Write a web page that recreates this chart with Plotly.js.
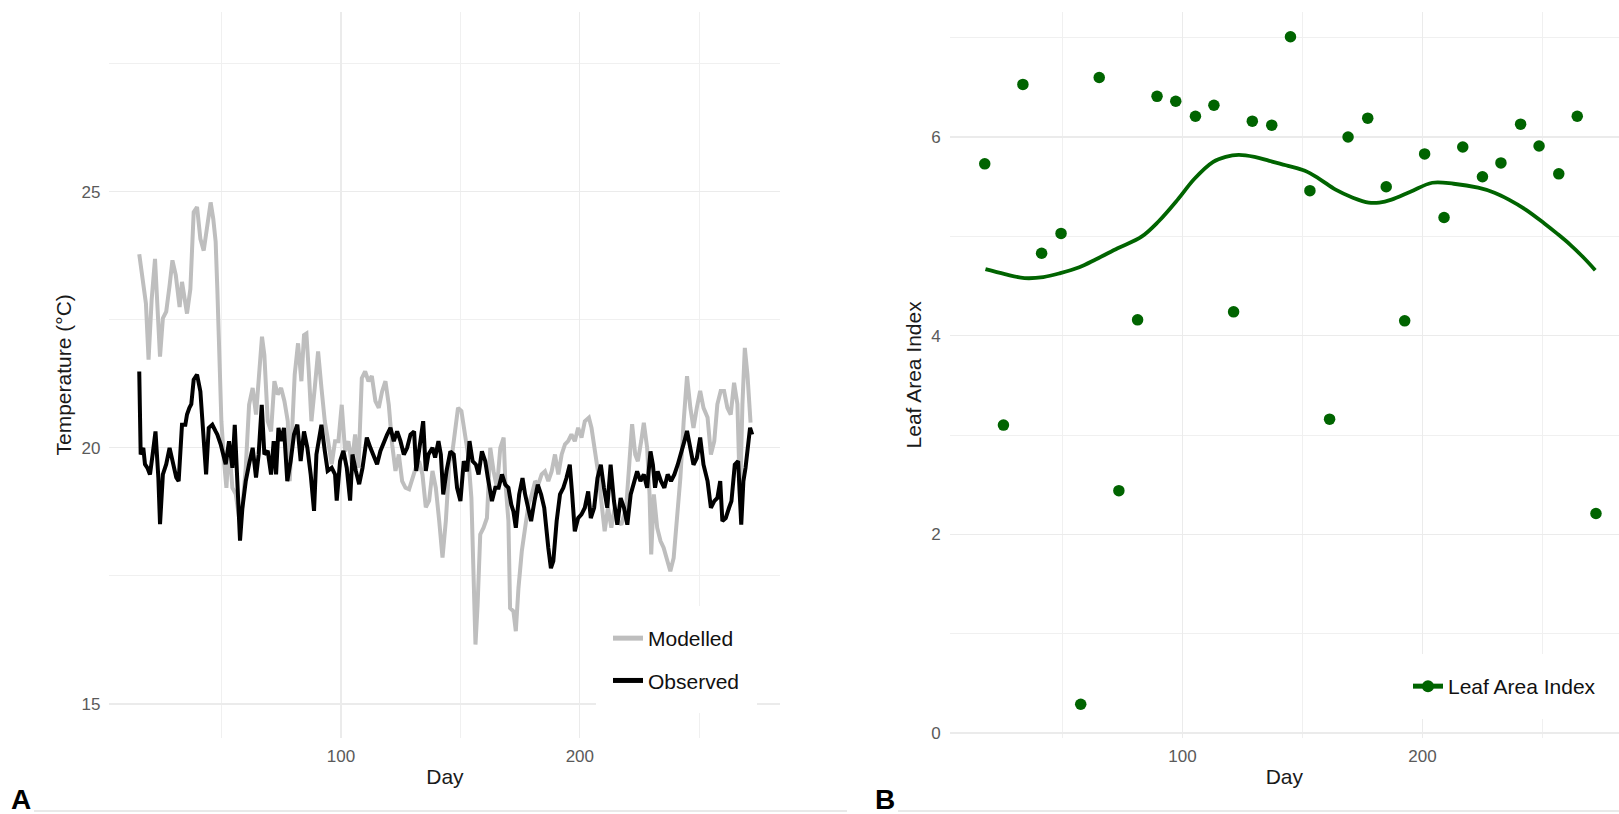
<!DOCTYPE html>
<html>
<head>
<meta charset="utf-8">
<script src="https://cdn.plot.ly/plotly-3.0.1.min.js"></script>
<style>html,body{margin:0;padding:0;background:#fff;}#chart{width:1619px;height:814px;}</style>
</head>
<body>
<div id="chart"></div>
<script>
// ---------- Panel A: temperature ----------
const modelDay = [15.5,16.9,18.3,19.4,20.7,22.1,23.1,24.2,25.4,26.8,28.2,29.4,30.8,32.4,33.4,34.4,35.5,36.9,38.3,39.7,41.1,42.5,43.9,45.4,46.5,47.5,48.2,48.9,49.9,51.0,52.0,53.1,54.5,55.9,57.3,58.7,60.1,61.5,63.0,64.4,65.8,66.9,67.9,69.3,70.7,72.1,73.5,74.9,76.3,77.7,78.5,79.2,80.6,82.0,83.4,84.5,85.5,86.5,87.6,89.0,90.4,91.8,93.2,94.6,96.1,97.5,98.9,100.3,101.7,103.1,104.5,105.9,107.3,108.7,110.1,111.5,112.9,114.4,115.8,117.2,118.6,120.0,121.4,122.8,124.2,125.6,127.0,128.5,129.9,131.3,132.7,134.1,135.5,136.9,138.3,139.7,141.1,142.5,143.9,145.4,146.5,149.0,150.4,151.8,153.2,154.6,155.6,156.3,157.2,158.3,159.7,161.1,162.5,163.9,165.3,166.7,168.1,168.8,170.1,170.8,172.2,173.2,174.3,175.7,177.1,178.5,179.9,181.3,182.6,184.0,185.4,186.8,188.2,189.6,191.0,192.4,193.8,195.1,196.5,197.9,199.3,200.7,202.1,203.8,204.9,206.3,207.6,209.0,210.4,211.8,213.2,214.6,216.0,217.4,219.4,220.8,221.9,223.2,224.3,225.7,226.8,228.2,229.2,229.9,231.0,232.4,233.8,235.1,236.5,237.9,239.3,240.7,242.1,243.5,244.9,246.3,247.6,249.0,250.4,251.8,253.5,254.9,256.3,257.6,259.0,260.4,261.8,263.2,264.6,266.0,267.1,268.1,269.1,270.2,271.5];
const modelTemp = [23.78,23.24,22.82,21.72,22.9,23.69,22.78,21.78,22.53,22.66,23.17,23.66,23.37,22.75,23.24,22.9,22.62,23.1,24.6,24.7,24.08,23.85,24.34,24.79,24.47,24.02,23.1,22.14,20.52,19.74,19.22,20.07,19.22,19.1,18.64,18.84,19.61,20.84,21.17,20.65,21.62,22.17,21.81,20.52,20.32,21.3,21.04,21.17,20.91,20.52,19.35,20.13,21.43,22.04,21.3,22.2,22.23,21.49,20.52,21.17,21.88,21.17,20.52,20.13,19.68,20.13,20.13,20.84,19.93,20.13,19.68,20.26,19.61,21.36,21.49,21.3,21.4,20.91,20.78,21.1,21.3,20.84,20.07,19.55,19.87,19.35,19.22,19.19,19.42,19.61,19.74,19.48,18.84,18.97,19.55,19.22,18.58,17.86,18.58,19.74,19.87,20.78,20.72,20.26,19.87,19.02,17.26,16.16,16.94,18.31,18.44,18.63,20.0,19.54,19.22,20.0,20.2,19.35,18.57,16.87,16.81,16.42,17.26,17.98,18.44,18.89,19.09,19.35,19.28,19.48,19.54,19.35,19.54,19.87,19.48,19.87,20.07,20.13,20.26,20.13,20.39,20.2,20.52,20.59,20.39,20.0,19.54,18.96,18.37,18.83,18.44,18.83,18.57,18.5,18.83,19.74,20.46,19.87,19.74,20.13,20.49,20.0,19.09,17.92,19.09,18.44,18.18,18.05,17.79,17.59,17.85,18.63,19.41,20.52,21.4,20.78,20.39,20.78,21.11,20.78,20.59,19.87,20.13,20.85,21.11,21.11,20.78,20.65,21.27,20.85,19.0,20.85,21.95,21.43,20.49];

const obsDay = [15.5,16.1,17.2,17.9,18.9,20.0,21.1,22.3,23.5,24.2,25.4,26.8,28.2,29.6,31.0,32.0,33.4,34.8,35.5,36.5,37.3,38.3,39.7,41.1,42.3,43.5,44.6,46.1,47.5,48.2,49.6,51.7,53.1,54.5,55.5,56.6,57.7,58.7,60.1,61.5,63.0,64.4,65.5,66.8,67.9,69.3,70.7,71.8,72.8,73.8,74.9,76.1,77.5,78.9,80.3,81.7,83.1,84.5,85.9,87.3,88.7,89.7,90.7,91.8,93.2,94.4,96.1,97.5,98.2,99.6,101.0,102.4,103.8,104.8,106.2,107.6,109.0,110.8,112.3,113.7,115.1,116.5,117.9,119.3,120.7,122.1,123.5,124.9,126.3,127.7,129.1,130.6,131.5,133.0,134.4,135.5,136.6,138.3,139.4,140.8,141.8,142.8,144.2,145.8,147.2,148.6,150.0,151.4,152.8,153.8,155.1,156.5,157.6,159.0,160.4,161.5,163.2,164.6,166.0,167.4,168.8,170.1,171.3,172.2,173.2,174.6,176.0,177.1,178.5,179.6,181.0,182.4,183.8,185.1,186.8,187.9,188.9,190.3,191.7,193.1,194.4,195.8,196.8,197.9,199.3,200.7,202.1,203.5,204.6,206.0,207.4,208.8,210.1,211.5,212.9,214.3,215.7,217.1,218.5,219.9,221.3,222.6,224.0,225.4,226.8,228.2,229.6,230.6,231.5,232.6,234.0,235.4,236.8,238.2,239.6,241.0,242.4,243.8,244.9,246.3,247.6,249.0,250.4,251.8,253.5,254.9,256.3,257.6,258.8,259.7,261.1,262.5,263.5,264.9,266.3,267.6,268.5,269.4,270.4,271.3,272.2];
const obsTemp = [21.49,19.87,20.0,19.68,19.61,19.48,19.87,20.32,19.42,18.51,19.48,19.68,20.0,19.74,19.42,19.35,20.45,20.45,20.65,20.78,20.85,21.33,21.43,21.1,20.26,19.48,20.39,20.45,20.32,20.26,20.07,19.68,20.13,19.61,20.45,19.22,18.19,18.83,19.35,19.68,20.0,19.42,19.87,20.84,19.87,19.94,19.48,20.13,19.48,20.39,20.13,20.39,19.35,19.74,20.26,20.45,19.74,20.32,20.0,19.48,18.77,19.87,20.13,20.45,19.94,19.55,19.61,19.48,18.97,19.74,19.94,19.61,18.97,19.87,19.55,19.29,19.61,20.2,20.0,19.81,19.68,19.94,20.13,20.26,20.39,20.13,20.32,20.13,19.87,20.0,20.26,20.32,19.55,20.13,20.52,19.55,19.87,20.0,19.81,20.13,19.87,19.09,19.55,19.93,19.87,19.22,18.96,19.74,19.54,20.13,19.74,19.67,19.48,19.93,19.74,19.41,18.96,19.22,19.22,19.48,19.28,19.22,18.89,18.76,18.44,19.09,19.41,19.09,18.83,18.57,18.96,19.28,19.09,18.83,18.05,17.65,17.79,18.57,19.09,19.22,19.41,19.67,19.09,18.37,18.63,18.7,18.83,19.15,18.63,18.83,19.41,19.67,19.22,18.83,19.67,18.96,18.5,19.02,18.83,18.5,19.09,19.28,19.54,19.35,19.48,19.22,19.93,19.67,19.22,19.54,19.35,19.22,19.48,19.35,19.48,19.67,19.87,20.13,20.33,20.0,19.67,19.8,20.2,19.67,19.35,18.83,18.96,19.02,19.35,18.57,18.63,18.83,18.96,19.67,19.74,18.5,19.35,19.61,20.0,20.39,20.26];

// ---------- Panel B: leaf area index ----------
const laiDay = [17.6,25.4,33.5,41.3,49.4,57.6,65.3,73.5,81.3,89.4,97.2,105.4,113.1,121.3,129.1,137.2,145.0,153.1,161.3,169.0,177.2,184.9,192.6,200.9,209.0,216.8,225.0,232.7,240.9,248.6,256.8,264.5,272.3];
const laiValue = [5.73,3.10,6.53,4.83,5.03,0.29,6.60,2.44,4.16,6.41,6.36,6.21,6.32,4.24,6.16,6.12,7.01,5.46,3.16,6.00,6.19,5.50,4.15,5.83,5.19,5.90,5.60,5.74,6.13,5.91,5.63,6.21,2.21];
const smoothDay = [17.9,26.0,34.2,42.0,49.1,57.0,64.0,73.0,83.1,90.0,98.0,105.0,112.8,118.0,123.4,130.0,136.2,144.0,151.0,157.0,163.8,171.0,177.6,182.0,187.1,195.0,204.1,213.0,223.2,230.0,236.0,243.0,250.8,256.0,261.4,267.0,272.0];
const smoothLAI = [4.67,4.62,4.58,4.59,4.63,4.69,4.77,4.88,5.00,5.15,5.37,5.58,5.75,5.80,5.82,5.80,5.76,5.71,5.66,5.58,5.47,5.39,5.34,5.34,5.37,5.45,5.54,5.53,5.49,5.44,5.37,5.27,5.13,5.03,4.92,4.79,4.66];

// ---------- tick labels ----------
const dayTicks = [100, 200];
const dayMinor = [50, 150, 250];
const tempTicks = [15, 20, 25];
const tempMinor = [17.5, 22.5, 27.5];
const laiTicks = [0, 2, 4, 6];
const laiMinor = [1, 3, 5, 7];

const W = 1619, H = 814;
const px = v => v / W;
const py = v => (H - v) / H;
const FONT = 'Liberation Sans, Arial, Helvetica, sans-serif';
const GREEN = '#006400';

const traces = [
  {x: modelDay, y: modelTemp, type: 'scatter', mode: 'lines', name: 'Modelled',
   line: {color: '#BEBEBE', width: 4}, xaxis: 'x', yaxis: 'y', legend: 'legend', legendgroup: 'm'},
  {x: obsDay, y: obsTemp, type: 'scatter', mode: 'lines', name: 'Observed',
   line: {color: '#000000', width: 4}, xaxis: 'x', yaxis: 'y', legend: 'legend', legendgroup: 'o'},
  {x: laiDay, y: laiValue, type: 'scatter', mode: 'markers', name: 'Leaf Area Index',
   marker: {color: GREEN, size: 11.5}, xaxis: 'x2', yaxis: 'y2', showlegend: false},
  {x: smoothDay, y: smoothLAI, type: 'scatter', mode: 'lines+markers', name: 'Leaf Area Index',
   line: {color: GREEN, width: 3.8, shape: 'spline', smoothing: 1}, marker: {color: GREEN, size: 0.01},
   xaxis: 'x2', yaxis: 'y2', legend: 'legend2'}
];

const gridMajor = '#EBEBEB', gridMinor = '#F0F0F0';
const tickFont = {family: FONT, size: 17, color: '#5a5a5a'};
const titleFont = {family: FONT, size: 21, color: '#1a1a1a'};

function xAxis(domain, range, anchor) {
  return {domain, range, anchor, tickvals: dayTicks, ticktext: dayTicks.map(String),
    showline: false, zeroline: false, ticks: '', showgrid: true, gridcolor: gridMajor, gridwidth: 1.2,
    minor: {tickvals: dayMinor, showgrid: true, gridcolor: gridMinor, gridwidth: 1.0},
    tickfont: tickFont, ticklabelstandoff: 6,
    title: {text: 'Day', font: titleFont, standoff: 4}};
}
function yAxis(domain, range, anchor, ticks, minor, title, standoff) {
  return {domain, range, anchor, tickvals: ticks, ticktext: ticks.map(String),
    showline: false, zeroline: false, ticks: '', showgrid: true, gridcolor: gridMajor, gridwidth: 1.2,
    minor: {tickvals: minor, showgrid: true, gridcolor: gridMinor, gridwidth: 1.0},
    tickfont: tickFont, ticklabelstandoff: 8,
    title: {text: title, font: titleFont, standoff: standoff}};
}

const yDom = [py(738), py(11.7)];
const layout = {
  width: W, height: H, margin: {l: 0, r: 0, t: 0, b: 0},
  paper_bgcolor: '#ffffff', plot_bgcolor: '#ffffff',
  font: {family: FONT},
  xaxis: xAxis([px(109.4), px(780.4)], [3.0, 284.0], 'y'),
  yaxis: yAxis(yDom, [14.336, 28.513], 'x', tempTicks, tempMinor, 'Temperature (°C)', 4),
  xaxis2: xAxis([px(949.7), 1], [3.0, 281.9], 'y2'),
  yaxis2: yAxis(yDom, [-0.05, 7.262], 'x2', laiTicks, laiMinor, 'Leaf Area Index', 3),
  legend: {x: px(596), y: py(606), xanchor: 'left', yanchor: 'top', bgcolor: '#ffffff',
    bordercolor: '#ffffff', borderwidth: 12,
    font: {family: FONT, size: 21, color: '#111'}, itemwidth: 30, itemsizing: 'constant',
    traceorder: 'grouped', tracegroupgap: 12},
  legend2: {x: px(1396), y: py(654), xanchor: 'left', yanchor: 'top', bgcolor: '#ffffff',
    bordercolor: '#ffffff', borderwidth: 12,
    font: {family: FONT, size: 21, color: '#111'}, itemwidth: 30, itemsizing: 'constant'},
  annotations: [
    {text: '<b>A</b>', xref: 'paper', yref: 'paper', x: px(20.6), y: 0, xanchor: 'center', yanchor: 'bottom',
     showarrow: false, font: {family: FONT, size: 28, color: '#000'}, yshift: -3},
    {text: '<b>B</b>', xref: 'paper', yref: 'paper', x: px(884.8), y: 0, xanchor: 'center', yanchor: 'bottom',
     showarrow: false, font: {family: FONT, size: 28, color: '#000'}, yshift: -3}
  ],
  shapes: [
    {type: 'line', xref: 'paper', yref: 'paper', x0: px(34), x1: px(847), y0: py(811), y1: py(811),
     line: {color: '#D4D4D4', width: 1.2}},
    {type: 'line', xref: 'paper', yref: 'paper', x0: px(898), x1: 1, y0: py(811), y1: py(811),
     line: {color: '#D4D4D4', width: 1.2}}
  ],
  showlegend: true
};

Plotly.newPlot('chart', traces, layout, {displayModeBar: false, staticPlot: true});
</script>
</body>
</html>
